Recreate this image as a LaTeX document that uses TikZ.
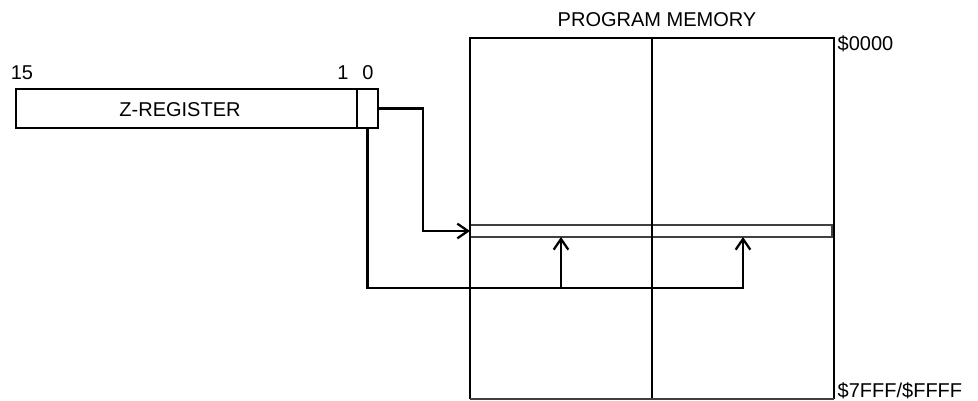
\documentclass[tikz,border=0pt]{standalone}
\usepackage{fontspec}
\setmainfont{Liberation Sans}
\usetikzlibrary{arrows.meta,positioning}

\begin{document}
\begin{tikzpicture}[
    x=0.75pt, y=-0.75pt,
    every node/.style={font=\fontsize{15}{17}\selectfont},
    cell/.style={rectangle, inner sep=0pt, outer sep=0pt},
    frame/.style={line width=2pt},
    slot/.style={line width=0.8pt, draw=black!75},
    arrow/.style={-{Straight Barb[length=8pt,width=11pt]}, line width=1.7pt}
]
\useasboundingbox (0,0) rectangle (978,400);

% Z register
\node[cell, minimum width=255.75pt, minimum height=29.25pt, anchor=north west] (zreg) at (16,89) {};
\node[cell, minimum width=15.75pt, minimum height=29.25pt, right=0pt of zreg] (bit0) {};
\draw[frame] (zreg.north west) rectangle (bit0.south east);
\draw[line width=0.8pt] (bit0.north west) -- (bit0.south west);
\node (zname) at (180,110) {Z-REGISTER};

% bit numbers
\node (msb) at (22,73) {15};
\node (b1) at (343,73) {1};
\node (b0) at (368,73) {0};

% Program memory
\node[cell, minimum width=136.5pt, minimum height=270.75pt, anchor=north west] (colL) at (470,38) {};
\node[cell, minimum width=136.5pt, minimum height=270.75pt, right=0pt of colL] (colR) {};
\node[cell, minimum width=271.5pt, minimum height=9pt, anchor=north west] (row) at (470,225) {};
\draw[slot] (row.north west) rectangle (row.south east);
\draw[frame] (colL.south west) |- (colR.north east) -- (colR.south east);
\draw[frame] (colL.north east) -- (colL.south east);
\draw[slot] (colL.south west) -- (colR.south east);

% Labels
\node (title) at (657,20) {PROGRAM MEMORY};
\node[anchor=west] (first) at (833,44) {\$0000};
\node[anchor=west] (last) at (833,391) {\$7FFF/\$FFFF};

% Arrows
\coordinate (turn) at (423,0);
\coordinate (tapL) at (561,288);
\coordinate (tapR) at (743,288);
\draw[arrow] (bit0.east) -| (turn |- row.west) -- (row.west);
\draw[arrow] (bit0.south) |- (tapR) -- (tapR |- row.south);
\draw[arrow] (tapL) -- (tapL |- row.south);
\end{tikzpicture}
\end{document}
